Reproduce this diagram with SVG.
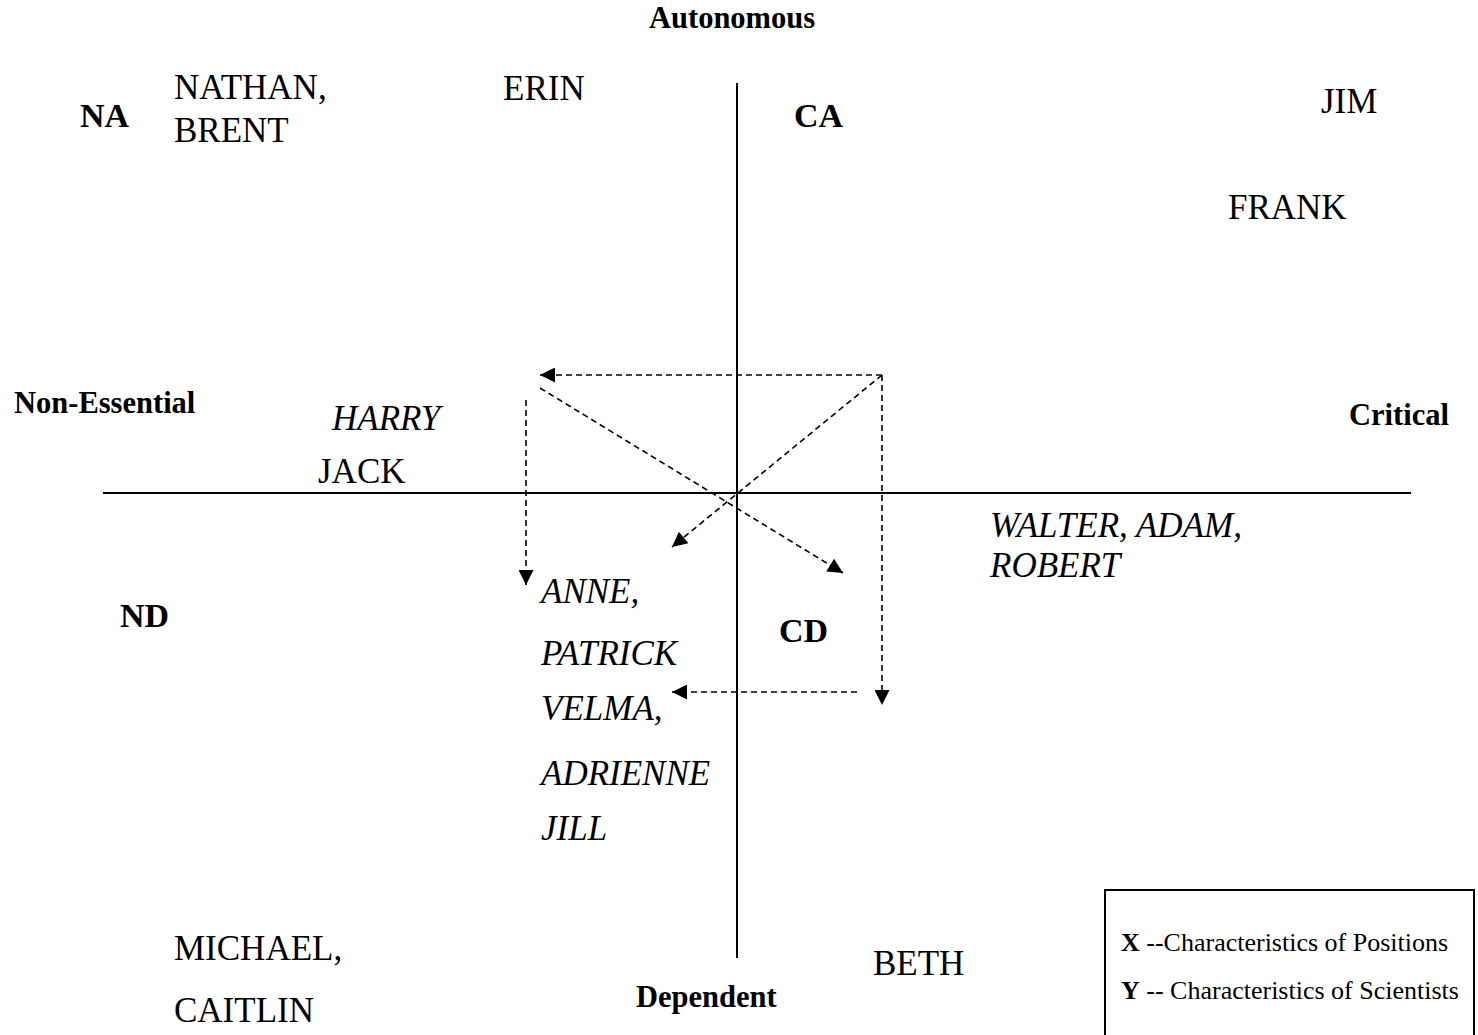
<svg xmlns="http://www.w3.org/2000/svg" width="1478" height="1035" viewBox="0 0 1478 1035">
<style>
.n{font-family:"Liberation Serif",serif;font-size:35px;fill:#000}
.b{font-family:"Liberation Serif",serif;font-weight:bold;fill:#000}
.ax{font-size:30.5px}
.q{font-size:34px}
.i{font-family:"Liberation Serif",serif;font-style:italic;font-size:35px;fill:#000}
.lg{font-family:"Liberation Serif",serif;font-size:26px;fill:#000}
.axis{stroke:#000;stroke-width:2;fill:none}
.d{stroke:#000;stroke-width:1.6;stroke-dasharray:6 4;fill:none;marker-end:url(#ah)}
</style>
<defs>
<marker id="ah" viewBox="0 0 10 10" refX="10" refY="5" markerWidth="19" markerHeight="15" markerUnits="userSpaceOnUse" orient="auto">
<path d="M0,0 L10,5 L0,10 Z" fill="#000"/>
</marker>
</defs>
<rect width="1478" height="1035" fill="#fff"/>
<g id="axes">
<line class="axis" x1="737" y1="83" x2="737" y2="958"/>
<line class="axis" x1="103" y1="493" x2="1411" y2="493"/>
</g>
<g id="connectors">
<line class="d" x1="882" y1="375" x2="540" y2="375"/>
<line class="d" x1="882" y1="375" x2="882" y2="705"/>
<line class="d" x1="882" y1="375" x2="672" y2="547"/>
<line class="d" x1="540" y1="388" x2="843" y2="573"/>
<line class="d" x1="526" y1="400" x2="526" y2="585"/>
<line class="d" x1="857" y1="692" x2="672" y2="692"/>
</g>
<g id="labels">
<text class="b ax" x="649" y="28">Autonomous</text>
<text class="b ax" x="14" y="413">Non-Essential</text>
<text class="b ax" x="1349" y="425">Critical</text>
<text class="b ax" x="636" y="1007">Dependent</text>
<text class="b q" x="80" y="127">NA</text>
<text class="b q" x="794" y="127">CA</text>
<text class="b q" x="120" y="627">ND</text>
<text class="b q" x="779" y="642">CD</text>
</g>
<g id="names">
<text class="n" x="174" y="99">NATHAN,</text>
<text class="n" x="174" y="142">BRENT</text>
<text class="n" x="503" y="100">ERIN</text>
<text class="n" x="1321" y="113">JIM</text>
<text class="n" x="1228" y="219">FRANK</text>
<text class="i" x="332" y="430">HARRY</text>
<text class="n" x="318" y="483">JACK</text>
<text class="i" x="990" y="537">WALTER, ADAM,</text>
<text class="i" x="990" y="577">ROBERT</text>
<text class="i" x="541" y="603">ANNE,</text>
<text class="i" x="541" y="665">PATRICK</text>
<text class="i" x="541" y="720">VELMA,</text>
<text class="i" x="541" y="785">ADRIENNE</text>
<text class="i" x="541" y="840">JILL</text>
<text class="n" x="174" y="960">MICHAEL,</text>
<text class="n" x="174" y="1022">CAITLIN</text>
<text class="n" x="873" y="975">BETH</text>
</g>
<g id="legend">
<rect x="1105" y="890" width="369" height="150" fill="#fff" stroke="#000" stroke-width="2"/>
<text class="lg" x="1121" y="951"><tspan font-weight="bold">X</tspan> --Characteristics of Positions</text>
<text class="lg" x="1121" y="999"><tspan font-weight="bold">Y</tspan> -- Characteristics of Scientists</text>
</g>
</svg>
